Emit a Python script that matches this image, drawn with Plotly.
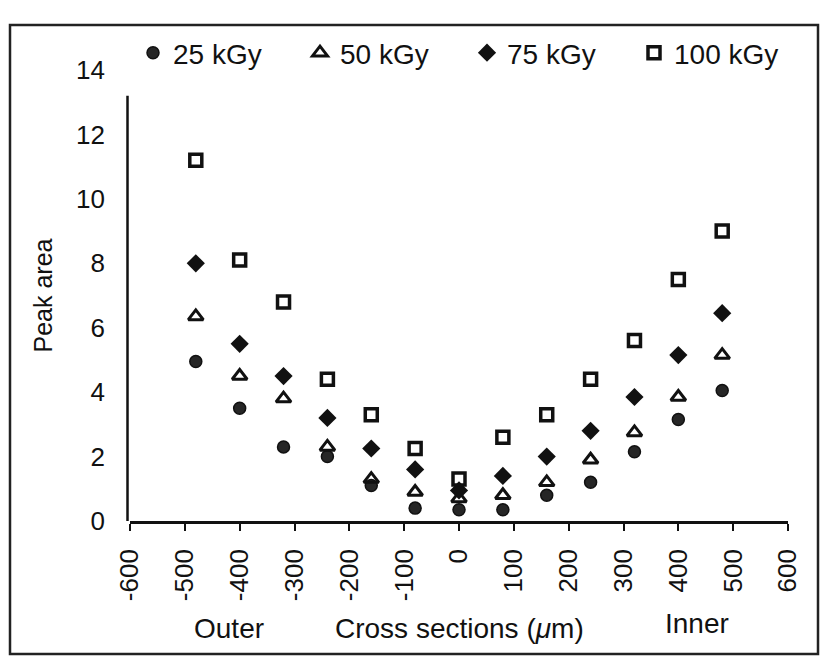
import plotly.graph_objects as go

# ---- data ----
x_pos = [-480, -400, -320, -240, -160, -80, 0, 80, 160, 240, 320, 400, 480]
kgy25 = [4.95, 3.5, 2.3, 2.0, 1.1, 0.4, 0.35, 0.35, 0.8, 1.2, 2.15, 3.15, 4.05]
kgy50 = [6.35, 4.5, 3.8, 2.3, 1.3, 0.9, 0.7, 0.8, 1.2, 1.9, 2.75, 3.85, 5.15]
kgy75 = [8.0, 5.5, 4.5, 3.2, 2.25, 1.6, 0.95, 1.4, 2.0, 2.8, 3.85, 5.15, 6.45]
kgy100 = [11.2, 8.1, 6.8, 4.4, 3.3, 2.25, 1.3, 2.6, 3.3, 4.4, 5.6, 7.5, 9.0]
series_names = ["25 kGy", "50 kGy", "75 kGy", "100 kGy"]
x_tickvals = [-600, -500, -400, -300, -200, -100, 0, 100, 200, 300, 400, 500, 600]
x_ticktext = ["-600", "-500", "-400", "-300", "-200", "-100", "0",
              "100", "200", "300", "400", "500", "600"]
y_tickvals = [0, 2, 4, 6, 8, 10, 12, 14]

FONT = "Liberation Sans, Arial, sans-serif"
INK = "#111111"

W, H = 827, 663
L, R, T, B = 130, 39, 70, 142
PW, PH = W - L - R, H - T - B


def px_x(p):
    return (p - L) / PW


def px_y(p):
    return (H - B - p) / PH


fig = go.Figure()
styles = [
    dict(symbol="circle", size=12, color="#262626", line=dict(color=INK, width=1.5)),
    dict(symbol="triangle-up-open", size=13, color=INK, line=dict(color=INK, width=3)),
    dict(symbol="diamond", size=14, color=INK, line=dict(color=INK, width=0)),
    dict(symbol="square-open", size=12, color=INK, line=dict(color=INK, width=3.5)),
]
legend_widths = [122, 122, 122, 106]
for name, vals, st, lw in zip(series_names, [kgy25, kgy50, kgy75, kgy100], styles, legend_widths):
    fig.add_trace(go.Scatter(x=x_pos, y=vals, mode="markers", name=name, marker=st,
                             legendwidth=lw))

fig.update_layout(
    width=W, height=H,
    margin=dict(l=L, r=R, t=T, b=B),
    paper_bgcolor="white", plot_bgcolor="white",
    font=dict(family=FONT, color=INK, size=25),
    showlegend=True,
    legend=dict(orientation="h", x=px_x(133), xanchor="left",
                y=px_y(53), yanchor="middle",
                font=dict(family=FONT, size=28, color=INK),
                bgcolor="rgba(0,0,0,0)", itemwidth=30,
                entrywidthmode="pixels", tracegroupgap=0),
    xaxis=dict(range=[-600, 600], tickvals=x_tickvals, ticktext=x_ticktext,
               tickangle=-90, showgrid=False, zeroline=False,
               showline=True, linecolor=INK, linewidth=2.5,
               ticks="outside", ticklen=7, tickwidth=2, tickcolor=INK,
               ticklabelstandoff=8,
               tickfont=dict(family=FONT, size=26, color=INK)),
    xaxis2=dict(range=[-600, 600], overlaying="x", anchor="y", side="bottom",
                tickvals=x_tickvals, showticklabels=False, showgrid=False,
                zeroline=False, ticks="inside", ticklen=7, tickwidth=2,
                tickcolor=INK, showline=False),
    yaxis=dict(range=[0, 14], tickvals=y_tickvals, showgrid=False, zeroline=False,
               showline=False, ticks="", ticklabelstandoff=24,
               tickfont=dict(family=FONT, size=26, color=INK),
               title=dict(text="Peak area", standoff=16,
                          font=dict(family=FONT, size=25, color=INK))),
)

# y axis line (hidden behind the legend at its top in the reference)
fig.add_shape(type="line", xref="paper", yref="y", x0=px_x(127.5), x1=px_x(127.5),
              y0=0, y1=13.2, line=dict(color=INK, width=2.5))

# outer frame
fig.add_shape(type="rect", xref="paper", yref="paper",
              x0=px_x(10), x1=px_x(818), y0=px_y(654), y1=px_y(25),
              line=dict(color="#222222", width=2.5), layer="below")

ann_font = dict(family=FONT, size=28, color=INK)
fig.add_annotation(text="Cross sections (<i>μ</i>m)", xref="paper", yref="paper",
                   x=px_x(459), y=px_y(628), showarrow=False, font=ann_font,
                   xanchor="center", yanchor="middle")
fig.add_annotation(text="Outer", xref="paper", yref="paper",
                   x=px_x(229), y=px_y(628), showarrow=False, font=ann_font,
                   xanchor="center", yanchor="middle")
fig.add_annotation(text="Inner", xref="paper", yref="paper",
                   x=px_x(697), y=px_y(623), showarrow=False, font=ann_font,
                   xanchor="center", yanchor="middle")

fig.write_html("out.html")
